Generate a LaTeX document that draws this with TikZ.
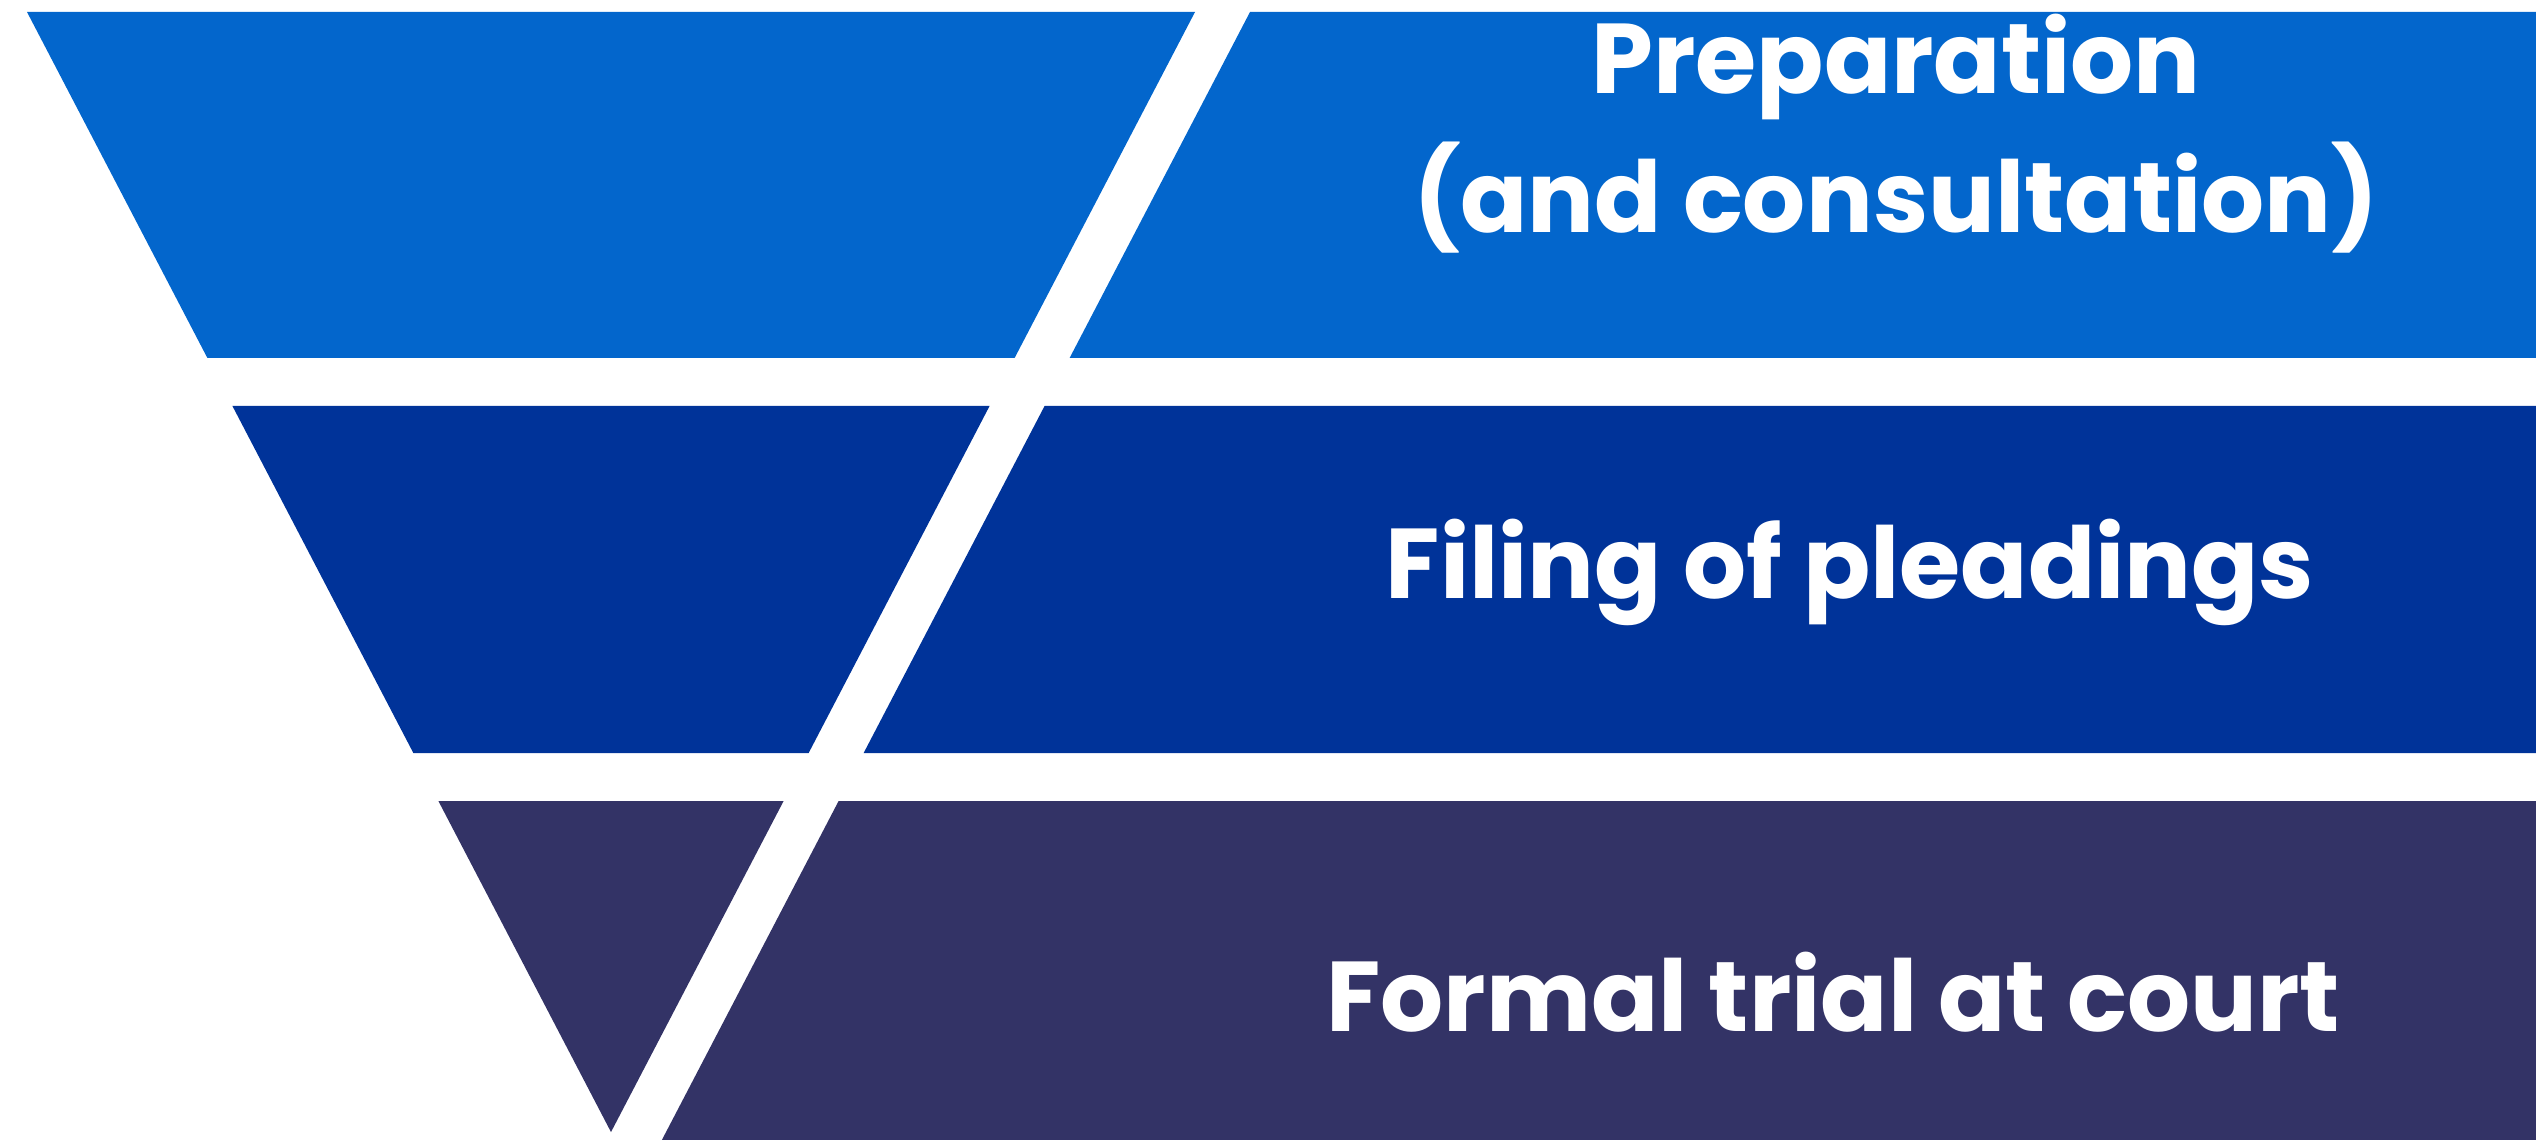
\documentclass[tikz,border=0pt]{standalone}
\usepackage{fontspec}
\setmainfont{Poppins}
\usepackage{tikz}
\definecolor{stageA}{HTML}{0366CC}
\definecolor{stageB}{HTML}{003399}
\definecolor{stageC}{HTML}{333366}
\begin{document}
\begin{tikzpicture}[x=0.01cm,y=-0.01cm,stagetext/.style={text=white,font=\fontsize{28.2pt}{39.8pt}\selectfont\bfseries,align=center,anchor=base,inner sep=0pt}]
\useasboundingbox (0,0) rectangle (2536,1140);
\foreach \t/\b/\e/\col in {12/358/358/stageA,406/753/753/stageB,801/1132/1140/stageC}{
\fill[\col] ({27+0.5214*(\t-12)},\t) -- ({1195-0.5214*(\t-12)},\t) -- ({1195-0.5214*(\b-12)},\b) -- ({27+0.5214*(\b-12)},\b) -- cycle;
\fill[\col] ({1250-0.5214*(\t-12)},\t) -- (2536,\t) -- (2536,\e) -- ({1250-0.5214*(\e-12)},\e) -- cycle;
}
\draw node [stagetext] (prep) at (1896,233) {Preparation\\(and consultation)};
\draw node [stagetext] (filing) at (1850,598) {Filing of pleadings};
\draw node [stagetext] (trial) at (1833,1031) {Formal trial at court};
\end{tikzpicture}
\end{document}
